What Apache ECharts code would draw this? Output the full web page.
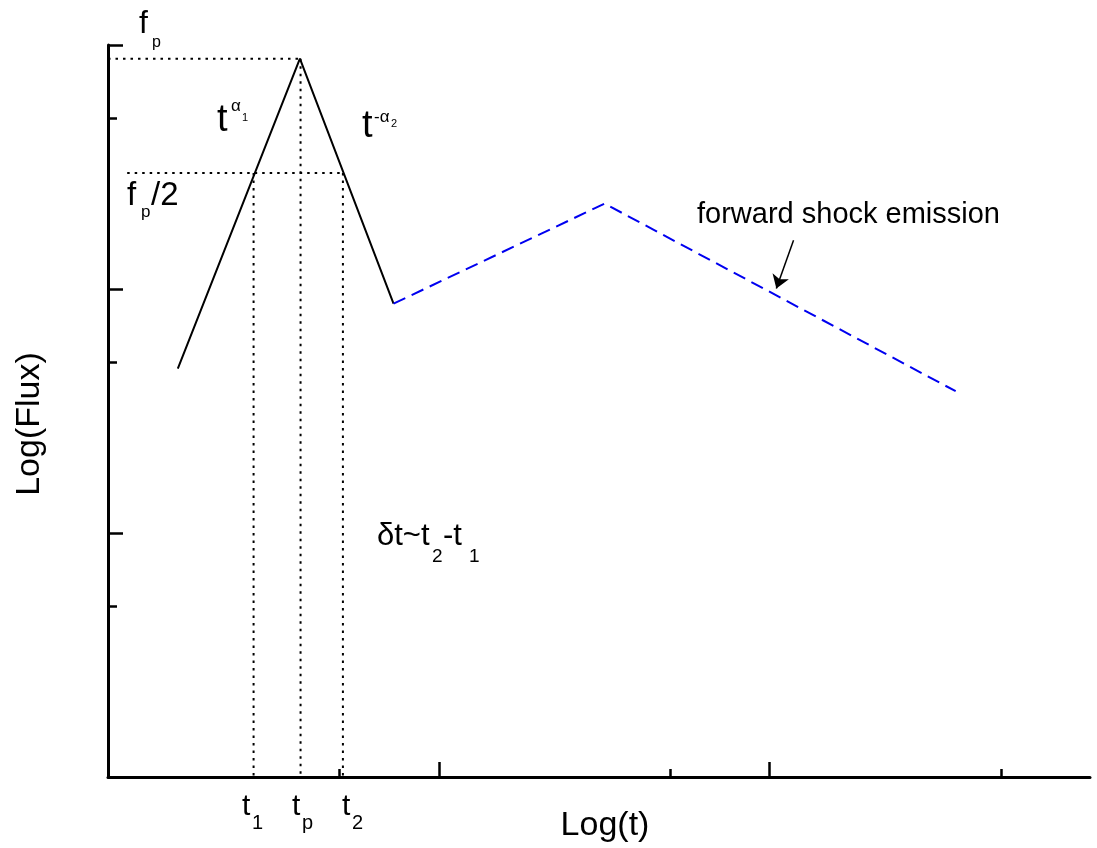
<!DOCTYPE html>
<html>
<head>
<meta charset="utf-8" />
<title>flare light curve sketch</title>
<script src="https://cdn.jsdelivr.net/npm/echarts@6/dist/echarts.min.js"></script>
<style type="text/css">
body, html {
	margin: 0;
	padding: 0;
	background: #fff;
}
#main {
	width: 1097px;
	height: 848px;
}
</style>
</head>
<body>
	<div id="main"></div>
	<script>
		// values in decades: x = log(t), y = log(Flux)
		const flareX = [0.211, 0.580, 0.863];
		const flareY = [1.674, 2.944, 1.940];
		const shockX = [0.863, 1.501, 2.562];
		const shockY = [1.940, 2.350, 1.581];

		const fpLevel = 2.944;   // f_p
		const halfLevel = 2.475; // f_p/2
		const halfStart = 0.058;
		const t1 = 0.44, tp = 0.582, t2 = 0.71;

		const arrowFrom = [2.072, 2.200];
		const arrowTo = [2.020, 2.002];

		const xMax = 2.968, yMax = 3;
		const xMajorTicks = [1, 2];
		const xMinorTicks = [0.699, 1.699, 2.699];
		const yMajorTicks = [1, 2, 3];
		const yMinorTicks = [0.699, 1.699, 2.699];

		const FONT = '"Liberation Sans", Arial, Helvetica, sans-serif';

		function zip(xs, ys) {
			return xs.map(function (x, i) { return [x, ys[i]]; });
		}

		// text placed by its baseline
		function txt(x, base, s, fs, align) {
			return {
				type: 'text',
				x: x,
				y: base - 0.35 * fs,
				silent: true,
				style: {
					text: s,
					font: fs + 'px ' + FONT,
					fill: '#000',
					align: align || 'left',
					verticalAlign: 'middle',
					textAlign: align || 'left',
					textVerticalAlign: 'middle'
				}
			};
		}

		function dotted(data) {
			return {
				type: 'line',
				data: data,
				symbol: 'none',
				silent: true,
				lineStyle: { color: '#000', width: 2, type: [2.5, 5] }
			};
		}

		function tickAxis(max, ticks, len, withLine, pos) {
			return {
				type: 'value',
				min: 0,
				max: max,
				position: pos,
				offset: 0,
				axisLine: { show: withLine, lineStyle: { color: '#000', width: 3 } },
				axisTick: {
					show: true,
					inside: true,
					length: len,
					customValues: ticks,
					lineStyle: { color: '#000', width: 2.5 }
				},
				axisLabel: { show: false },
				splitLine: { show: false }
			};
		}

		let chart = echarts.init(document.getElementById('main'));
		chart.setOption({
			animation: false,
			backgroundColor: '#fff',
			grid: { left: 108, right: 7, top: 45, bottom: 71 },
			xAxis: [
				tickAxis(xMax, xMajorTicks, 15, true, 'bottom'),
				tickAxis(xMax, xMinorTicks, 8, false, 'bottom')
			],
			yAxis: [
				tickAxis(yMax, yMajorTicks, 15, true, 'left'),
				tickAxis(yMax, yMinorTicks, 9, false, 'left')
			],
			series: [
				dotted([[0, fpLevel], [tp, fpLevel]]),
				dotted([[halfStart, halfLevel], [t2, halfLevel]]),
				dotted([[t1, halfLevel], [t1, 0]]),
				dotted([[tp, fpLevel], [tp, 0]]),
				dotted([[t2, halfLevel], [t2, 0]]),
				{
					type: 'line',
					data: zip(flareX, flareY),
					symbol: 'none',
					silent: true,
					lineStyle: { color: '#000', width: 2 }
				},
				{
					type: 'line',
					data: zip(shockX, shockY),
					symbol: 'none',
					silent: true,
					lineStyle: { color: '#0000f0', width: 2, type: [13, 7] }
				},
				{
					type: 'lines',
					coordinateSystem: 'cartesian2d',
					silent: true,
					symbol: ['none', 'arrow'],
					symbolSize: [6, 13],
					lineStyle: { color: '#000', width: 1.5, opacity: 1, curveness: 0 },
					data: [{ coords: [arrowFrom, arrowTo] }]
				}
			],
			graphic: [
				// f_p
				txt(139, 35, 'f', 32),
				txt(152, 48, 'p', 16),
				// t^alpha1
				txt(217, 134, 't', 38),
				txt(231, 112, 'α', 17),
				txt(242, 122, '1', 11),
				// t^-alpha2
				txt(362, 140, 't', 38),
				txt(374, 123, '-α', 17),
				txt(391, 128, '2', 11),
				// f_p/2
				txt(127, 207, 'f', 33),
				txt(141, 218, 'p', 17),
				txt(151, 207, '/2', 33),
				// delta t
				txt(377, 547, 'δt~t', 31),
				txt(432, 563, '2', 19),
				txt(443, 547, '-t', 31),
				txt(469, 563, '1', 19),
				txt(697, 225, 'forward shock emission', 29),
				// times under axis
				txt(242, 817, 't', 30),
				txt(252, 830, '1', 20),
				txt(292, 817, 't', 30),
				txt(302, 830, 'p', 20),
				txt(342, 817, 't', 30),
				txt(352, 830, '2', 20),
				txt(605, 838, 'Log(t)', 34, 'center'),
				{
					type: 'text',
					x: 30,
					y: 424,
					rotation: Math.PI / 2,
					silent: true,
					style: {
						text: 'Log(Flux)',
						font: '34px ' + FONT,
						fill: '#000',
						align: 'center',
						verticalAlign: 'middle',
						textAlign: 'center',
						textVerticalAlign: 'middle'
					}
				}
			]
		});
	</script>
</body>
</html>
